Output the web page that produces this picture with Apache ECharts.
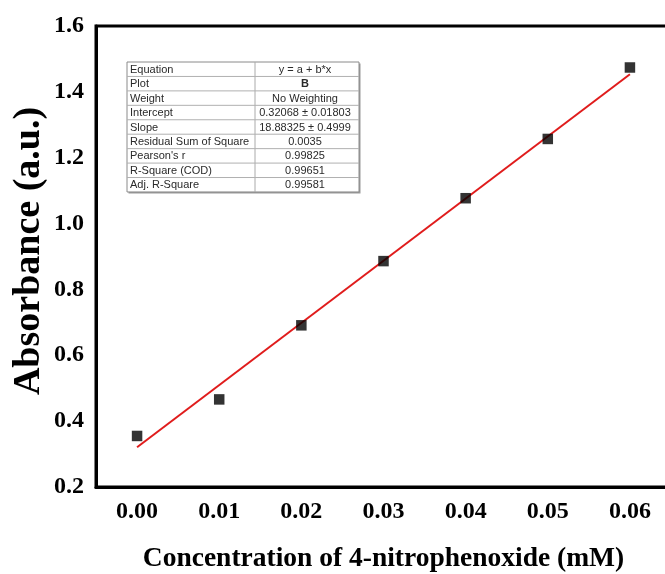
<!DOCTYPE html>
<html><head><meta charset="utf-8">
<script src="https://cdn.jsdelivr.net/npm/echarts@6/dist/echarts.min.js"></script>
<style>html,body{margin:0;padding:0;background:#fff}#c{width:665px;height:574px}</style>
</head><body><div id="c"></div>
<script>
const concentration = [0.00, 0.01, 0.02, 0.03, 0.04, 0.05, 0.06];
const absorbance = [0.355, 0.466, 0.691, 0.886, 1.077, 1.257, 1.474];
const fitX = [0.00, 0.06];
const fitY = [0.3207, 1.4537];
const xTicks = [0.00, 0.01, 0.02, 0.03, 0.04, 0.05, 0.06];
const tableLabels = ['Equation','Plot','Weight','Intercept','Slope','Residual Sum of Square',"Pearson's r",'R-Square (COD)','Adj. R-Square'];
const tableValues = ['y = a + b*x','B','No Weighting','0.32068 ± 0.01803','18.88325 ± 0.4999','0.0035','0.99825','0.99651','0.99581'];

const chart = echarts.init(document.getElementById('c'));
const serif = '"Liberation Serif","Times New Roman",serif';
const sans = '"Liberation Sans",Arial,sans-serif';

// table graphic
const tL = 127, tT = 62, tW = 232, colX = 255, rowH = 14.44;
const tH = rowH * tableLabels.length;
const g = [];
g.push({type:'rect', shape:{x:tL+1.5, y:tT+1.5, width:tW, height:tH}, style:{fill:'#9a9a9a'}, z:10});
g.push({type:'rect', shape:{x:tL, y:tT, width:tW, height:tH}, style:{fill:'#fff', stroke:'#8a8a8a', lineWidth:1}, z:11});
g.push({type:'line', shape:{x1:colX, y1:tT, x2:colX, y2:tT+tH}, style:{stroke:'#aaa', lineWidth:1}, z:12});
tableLabels.forEach((lab, i) => {
  if (i > 0) g.push({type:'line', shape:{x1:tL, y1:tT+i*rowH, x2:tL+tW, y2:tT+i*rowH}, style:{stroke:'#b0b0b0', lineWidth:1}, z:12});
  g.push({type:'text', x:tL+3, y:tT+i*rowH+rowH/2+0.5, style:{text:lab, font:'11px '+sans, fill:'#2a2a2a', verticalAlign:'middle', align:'left'}, z:13});
  g.push({type:'text', x:305, y:tT+i*rowH+rowH/2+0.5, style:{text:tableValues[i], font:(i===1?'bold ':'')+'11px '+sans, fill:'#2a2a2a', verticalAlign:'middle', align:'center'}, z:13});
});

chart.setOption({
  animation:false,
  backgroundColor:'#fff',
  grid:{left:96, top:26, width:575, height:461, outerBoundsMode:'none', containLabel:false, show:true, borderColor:'#000', borderWidth:3, backgroundColor:'transparent'},
  xAxis:{type:'value', min:-0.005, max:0.065,
    name:'Concentration of 4-nitrophenoxide (mM)', nameLocation:'middle', nameGap:58, nameMoveOverlap:false,
    nameTextStyle:{fontFamily:serif, fontWeight:'bold', fontSize:27.5, color:'#000'},
    axisLine:{show:true, onZero:false, lineStyle:{color:'#000', width:3}},
    axisTick:{show:false}, splitLine:{show:false},
    axisLabel:{customValues:xTicks, formatter:v=>v.toFixed(2), fontFamily:serif, fontWeight:'bold', fontSize:24, color:'#000', margin:13}},
  yAxis:{type:'value', min:0.2, max:1.6, interval:0.2,
    name:'Absorbance (a.u.)', nameLocation:'middle', nameGap:48, nameMoveOverlap:false,
    nameTextStyle:{fontFamily:serif, fontWeight:'bold', fontSize:38, color:'#000', padding:[0,0,0,11]},
    axisLine:{show:true, onZero:false, lineStyle:{color:'#000', width:3}},
    axisTick:{show:false}, splitLine:{show:false},
    axisLabel:{formatter:v=>v.toFixed(1), fontFamily:serif, fontWeight:'bold', fontSize:24, color:'#000', margin:12}},
  series:[
    {type:'line', data:fitX.map((x,i)=>[x,fitY[i]]), symbol:'none', lineStyle:{color:'#e01c1c', width:2}, z:3},
    {type:'scatter', data:concentration.map((x,i)=>[x,absorbance[i]]), symbol:'rect', symbolSize:10.5, itemStyle:{color:'#000'}, z:4}
  ],
  graphic:g
});
</script></body></html>
